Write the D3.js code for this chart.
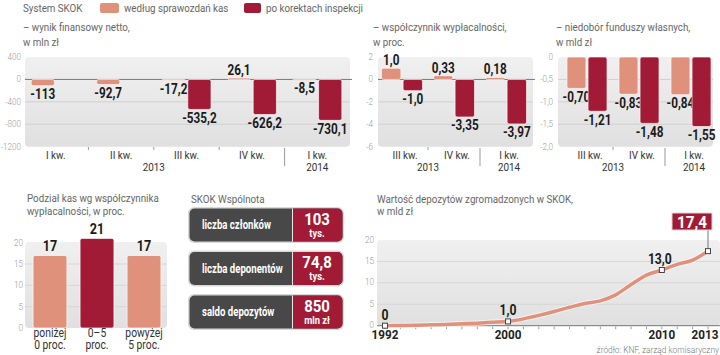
<!DOCTYPE html>
<html><head><meta charset="utf-8">
<script src="https://cdn.jsdelivr.net/npm/d3@7"></script>
<style>
body{margin:0;background:#fff;}
svg{display:block;}
text{font-family:Roboto,"Noto Sans",sans-serif;}
</style></head>
<body>
<script>
// ---------- DATA ----------
const legendLabels = ["według sprawozdań kas","po korektach inspekcji"];
const q1Cats = ["I kw.","II kw.","III kw.","IV kw.","I kw. "];
const q1Light = [-113, -92.7, -17.2, 26.1, -8.5];
const q1Dark = [null, null, -535.2, -626.2, -730.1];
const q1Ticks = [400, 0, -400, -800, -1200];
const q1TickLabels = ["400","0","-400","-800","-1200"];

const q2Cats = ["III kw.","IV kw.","I kw."];
const q2Light = [1.0, 0.33, 0.18];
const q2Dark = [-1.0, -3.35, -3.97];
const q2Ticks = [2, 0, -2, -4, -6];
const q2TickLabels = ["2","0","-2","-4","-6"];

const q3Cats = ["III kw.","IV kw.","I kw."];
const q3Light = [-0.70, -0.83, -0.84];
const q3Dark = [-1.21, -1.48, -1.55];
const q3Ticks = [0, -0.5, -1.0, -1.5, -2.0];
const q3TickLabels = ["0","-0,5","-1,0","-1,5","-2,0"];

const splitCats = [["poniżej","0 proc."],["0–5","proc."],["powyżej","5 proc."]];
const splitValues = [17, 21, 17];
const splitTicks = [0, 5, 10, 15, 20];

const boxLabels = ["liczba członków","liczba deponentów","saldo depozytów"];
const boxValues = ["103","74,8","850"];
const boxUnits = ["tys.","tys.","mln zł"];

const depYears = [1992,1993,1994,1995,1996,1997,1998,1999,2000,2001,2002,2003,2004,2005,2006,2007,2008,2009,2010,2011,2012,2013];
const depValues = [0,0.05,0.1,0.2,0.3,0.45,0.6,0.8,1.0,1.6,2.4,3.3,4.3,5.2,5.8,7.2,9.6,11.8,13.0,14.3,15.3,17.4];
const depLabeled = [1992,2000,2010,2013];
const depTicks = [0,5,10,15,20];
const depXLabels = [1992,2000,2010,2013];

const fmt = v => String(v).replace(".", ",");
const fmt1 = v => v.toFixed(1).replace(".", ",");
const fmt2 = v => v.toFixed(2).replace(".", ",");

const LIGHT = "#e0917b", DARK = "#a21b36";

const svg = d3.select("body").append("svg").attr("width",720).attr("height",355);
const defs = svg.append("defs");
const g1 = defs.append("linearGradient").attr("id","bg").attr("x1",0).attr("y1",0).attr("x2",0).attr("y2",1);
g1.append("stop").attr("offset","0%").attr("stop-color","#f0f0f0");
g1.append("stop").attr("offset","100%").attr("stop-color","#e0e0e0");

const STY = {
  title:{size:11.5,weight:400,fill:"#666",sx:0.85},
  tick:{size:9,weight:300,fill:"#9a9a9a",sx:0.9},
  val:{size:14,weight:700,fill:"#1a1a1a",sx:0.84},
  xl:{size:11.5,weight:400,fill:"#333",sx:0.86}
};
function T(x,y,s,style,anchor,over){
  const o=Object.assign({},STY[style],over||{});
  return svg.append("text").attr("transform",`translate(${x},${y}) scale(${o.sx},1)`)
    .attr("text-anchor",anchor||"start").attr("font-size",o.size).attr("font-weight",o.weight)
    .attr("fill",o.fill).text(s);
}

// Header / legend
T(23,12,"System SKOK","title");
svg.append("rect").attr("x",100).attr("y",3).attr("width",19).attr("height",10).attr("rx",2).attr("fill",LIGHT);
T(124,12,legendLabels[0],"title");
svg.append("rect").attr("x",244).attr("y",3).attr("width",17).attr("height",10).attr("rx",2).attr("fill",DARK);
T(266,12,legendLabels[1],"title");

function groupChart(o){
  const y = d3.scaleLinear().domain(o.domain).range([57,146.7]);
  const x = d3.scaleBand().domain(o.cats).range(o.range).paddingInner(o.pi).paddingOuter(o.po);
  const xs = d3.scaleBand().domain(["a","b"]).range([0,x.bandwidth()]).paddingInner(0.1);
  svg.append("rect").attr("x",o.bg[0]).attr("y",57).attr("width",o.bg[1]-o.bg[0]).attr("height",146.7-57).attr("rx",4).attr("fill","url(#bg)");
  o.ticks.forEach((t,i)=>{
    T(o.labX, y(t)+3, o.tickLabels[i], "tick", "end");
    if(t!==o.ticks[0] && t!==o.ticks[o.ticks.length-1] && t!==0)
      svg.append("line").attr("x1",o.bg[0]).attr("x2",o.bg[1]).attr("y1",y(t)).attr("y2",y(t)).attr("stroke","#d0d0d0").attr("stroke-width",1);
  });
  if(o.domain[0]>0 && o.domain[1]<0)
    svg.append("line").attr("x1",o.bg[0]).attr("x2",o.bg[1]+2).attr("y1",y(0)).attr("y2",y(0)).attr("stroke","#777").attr("stroke-width",1);
  const series=[["a",o.light,LIGHT],["b",o.dark,DARK]];
  series.forEach(([k,vals,col])=>{
    o.cats.forEach((c,i)=>{
      const v=vals[i]; if(v===null||v===undefined) return;
      const bx=x(c)+xs(k), bw=xs.bandwidth();
      const y0=y(Math.max(0,v)), y1=y(Math.min(0,v));
      svg.append("rect").attr("x",bx).attr("y",y0).attr("width",bw).attr("height",Math.max(1,y1-y0)).attr("rx",2)
        .attr("fill",col).attr("stroke","rgba(255,255,255,0.65)").attr("stroke-width",1);
      const ly = v>=0 ? y0-3 : y1+13.5;
      T(bx+bw/2, ly, o.fmt(v), "val", "middle");
    });
  });
  o.cats.forEach((c,i)=>{
    T(x(c)+x.bandwidth()/2+o.lx, 159, c.trim(), "xl","middle");
  });
  const step=x.step();
  for(let i=1;i<o.cats.length;i++){
    const bx = x(o.cats[i]) - step*o.pi/2;
    if(i===o.cats.length-1)
      svg.append("line").attr("x1",bx).attr("x2",bx).attr("y1",148).attr("y2",166).attr("stroke","#999");
    else
      svg.append("line").attr("x1",bx).attr("x2",bx).attr("y1",147).attr("y2",150).attr("stroke","#999");
    if(i===o.yearBoundary) T(bx,170.5,"2013","xl","middle");
  }
  const last=o.cats[o.cats.length-1];
  T(x(last)+x.bandwidth()/2+o.lx,170.5,"2014","xl","middle");
}

T(23,31,"– wynik finansowy netto,","title");
T(23,46,"w mln zł","title");
groupChart({cats:q1Cats,light:q1Light,dark:q1Dark,domain:[400,-1200],ticks:q1Ticks,tickLabels:q1TickLabels,
  range:[23,350],pi:0.25,po:0.125,bg:[25,350],labX:21,fmt:fmt,yearBoundary:2,lx:0});

T(373,31,"– współczynnik wypłacalności,","title");
T(373,46,"w proc.","title");
groupChart({cats:q2Cats,light:q2Light,dark:q2Dark,domain:[2,-6],ticks:q2Ticks,tickLabels:q2TickLabels,
  range:[376,532],pi:0.21,po:0.105,bg:[378,533],labX:373,fmt:v=>(Number.isInteger(v)? fmt1(v): fmt(v)),yearBoundary:1,lx:3});

T(556,31,"– niedobór funduszy własnych,","title");
T(556,46,"w mld zł","title");
groupChart({cats:q3Cats,light:q3Light,dark:q3Dark,domain:[0,-2],ticks:q3Ticks,tickLabels:q3TickLabels,
  range:[561,717],pi:0.23,po:0.115,bg:[558,713],labX:553,fmt:fmt2,yearBoundary:1,lx:3});

// ---------- split chart ----------
T(27,202,"Podział kas wg współczynnika","title");
T(27,215,"wypłacalności, w proc.","title");
{
  const y=d3.scaleLinear().domain([0,20]).range([328,242.7]);
  const x=d3.scaleBand().domain(d3.range(splitValues.length)).range([26.5,167.5]).paddingInner(0.28).paddingOuter(0.14);
  svg.append("rect").attr("x",25).attr("y",242).attr("width",142).attr("height",86).attr("rx",4).attr("fill","url(#bg)");
  splitTicks.forEach(t=>{
    T(23,y(t)+3,String(t),"tick","end");
    if(t>0&&t<20) svg.append("line").attr("x1",25).attr("x2",167).attr("y1",y(t)).attr("y2",y(t)).attr("stroke","#d6d6d6");
  });
  splitValues.forEach((v,i)=>{
    svg.append("rect").attr("x",x(i)).attr("y",y(v)).attr("width",x.bandwidth()).attr("height",y(0)-y(v)).attr("rx",2)
      .attr("fill",i===1?DARK:LIGHT).attr("stroke","rgba(255,255,255,0.65)");
    T(x(i)+x.bandwidth()/2,y(v)-4,String(v),"val","middle",{size:15});
    T(x(i)+x.bandwidth()/2,337,splitCats[i][0],"xl","middle",{size:12,sx:0.86});
    T(x(i)+x.bandwidth()/2,348.5,splitCats[i][1],"xl","middle",{size:12,sx:0.86});
  });
}

// ---------- SKOK Wspólnota ----------
T(191,203,"SKOK Wspólnota","title");
boxLabels.forEach((l,i)=>{
  const top=208+i*43.5, h=34;
  svg.append("rect").attr("x",188).attr("y",top-1).attr("width",156).attr("height",h+2).attr("rx",6).attr("fill","#d9d9d9");
  svg.append("rect").attr("x",189.5).attr("y",top+0.5).attr("width",153).attr("height",h-1).attr("rx",5).attr("fill","#484848");
  svg.append("path").attr("d",`M293,${top+0.5} H337.5 a5,5 0 0 1 5,5 V${top+h-5.5} a5,5 0 0 1 -5,5 H293 Z`).attr("fill",DARK);
  svg.append("line").attr("x1",292.5).attr("x2",292.5).attr("y1",top+0.5).attr("y2",top+h-0.5).attr("stroke","#e6e6e6").attr("stroke-width",1);
  T(202,top+21,l,"val","start",{size:12,fill:"#fff",sx:0.8});
  T(317,top+16.5,boxValues[i],"val","middle",{size:17,fill:"#fff",sx:0.88});
  T(317,top+28.5,boxUnits[i],"val","middle",{size:11,fill:"#fff",sx:0.85});
});

// ---------- deposits line ----------
T(377,203,"Wartość depozytów zgromadzonych w SKOK,","title");
T(377,215,"w mld zł","title");
{
  const x=d3.scaleLinear().domain([1992,2013]).range([385,708]);
  const y=d3.scaleLinear().domain([0,20]).range([325.7,240]);
  svg.append("rect").attr("x",377).attr("y",240).attr("width",343).attr("height",86).attr("rx",4).attr("fill","url(#bg)");
  depTicks.forEach(t=>{
    T(374,y(t)+2.5,String(t),"tick","end");
    if(t>0&&t<20) svg.append("line").attr("x1",377).attr("x2",720).attr("y1",y(t)).attr("y2",y(t)).attr("stroke","#d6d6d6");
  });
  svg.append("line").attr("x1",377).attr("x2",720).attr("y1",y(0)).attr("y2",y(0)).attr("stroke","#777");
  depYears.forEach(yr=>{
    svg.append("line").attr("x1",x(yr)).attr("x2",x(yr)).attr("y1",y(0)+1).attr("y2",y(0)+3.5).attr("stroke","#999");
  });
  depXLabels.forEach(yr=>{
    const xx = Math.min(x(yr), 705);
    T(xx,339,String(yr),"val","middle",{size:13,fill:"#222",sx:0.9});
  });
  const line=d3.line().x((d,i)=>x(depYears[i])).y(d=>y(d)).curve(d3.curveMonotoneX);
  svg.append("path").attr("d",line(depValues)).attr("fill","none").attr("stroke","#fff").attr("stroke-width",5.5).attr("stroke-opacity",0.6);
  svg.append("path").attr("d",line(depValues)).attr("fill","none").attr("stroke",LIGHT).attr("stroke-width",3.5).attr("stroke-linecap","round");
  depLabeled.forEach(yr=>{
    const v=depValues[depYears.indexOf(yr)];
    svg.append("rect").attr("x",x(yr)-2.5).attr("y",y(v)-2.5).attr("width",5).attr("height",5).attr("fill","#fff").attr("stroke","#444").attr("stroke-width",1);
    const lab = yr===1992? "0" : fmt1(v);
    if(yr===2013){
      svg.append("line").attr("x1",x(yr)).attr("x2",x(yr)).attr("y1",230).attr("y2",y(v)-2.5).attr("stroke","#777");
      svg.append("rect").attr("x",672).attr("y",213).attr("width",40).attr("height",17).attr("fill",DARK).attr("stroke","#d8d8d8");
      T(692,227.5,lab,"val","middle",{size:17,fill:"#fff",sx:0.9});
    } else {
      const dx = yr===2010? -2 : 0;
      T(x(yr)+dx, y(v)-6, lab, "val","middle",{size:14.5});
    }
  });
}
T(719,353,"źródło: KNF, zarząd komisaryczny","tick","end",{fill:"#777",size:9.5,sx:0.88});
</script>
</body></html>
